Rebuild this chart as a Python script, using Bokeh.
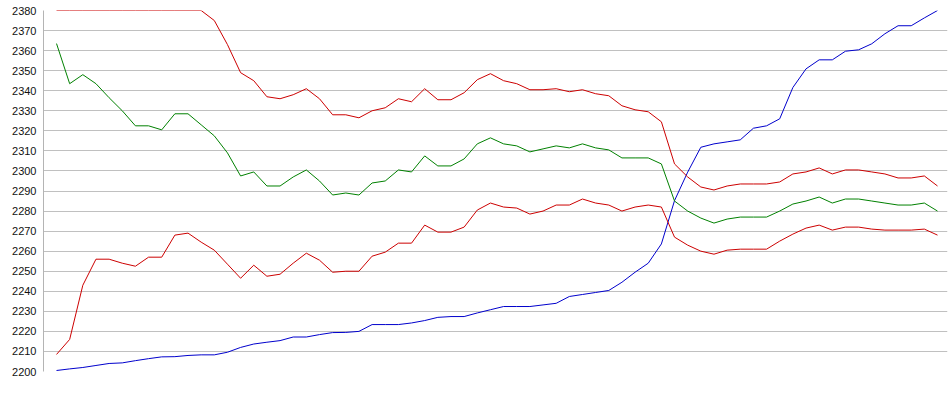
from bokeh.plotting import figure
from bokeh.models import Range1d, FixedTicker
from bokeh.embed import file_html
from bokeh.resources import INLINE

# index of each sample (68 samples)
idx = list(range(68))

red_upper = [2380] * 12 + [
    2375, 2363, 2349, 2345, 2337, 2336, 2338, 2341, 2336, 2328,
    2328, 2326.5, 2330, 2331.5, 2336, 2334.5, 2341, 2335.5, 2335.5, 2339,
    2345.5, 2348.5, 2345, 2343.5, 2340.5, 2340.5, 2341, 2339.5, 2340.5, 2338.5,
    2337.5, 2332.5, 2330.5, 2329.5, 2324.5, 2303.5, 2297, 2292, 2290.5, 2292.5,
    2293.5, 2293.5, 2293.5, 2294.5, 2298.5, 2299.5, 2301.5, 2298.5, 2300.5, 2300.5,
    2299.5, 2298.5, 2296.5, 2296.5, 2297.5, 2292.5]

green_mid = [
    2363.5, 2343.5, 2348, 2343.5, 2336.5, 2330, 2322.5, 2322.5, 2320.5, 2328.5,
    2328.5, 2323, 2317.5, 2309, 2297.5, 2299.5, 2292.5, 2292.5, 2297, 2300.5,
    2295, 2288, 2289, 2288, 2294, 2295, 2300.5, 2299.5, 2307.5, 2302.5,
    2302.5, 2306, 2313.5, 2316.5, 2313.5, 2312.5, 2309.5, 2311, 2312.5, 2311.5,
    2313.5, 2311.5, 2310.5, 2306.5, 2306.5, 2306.5, 2303.5, 2285, 2280, 2276.5,
    2274, 2276, 2277, 2277, 2277, 2280, 2283.5, 2285, 2287, 2284,
    2286, 2286, 2285, 2284, 2283, 2283, 2284, 2280]

red_lower = [
    2208.5, 2216, 2243, 2256, 2256, 2254, 2252.5, 2257, 2257, 2268,
    2269, 2264.5, 2260.5, 2253.5, 2246.5, 2253, 2247.5, 2248.5, 2254, 2259,
    2255.5, 2249.5, 2250, 2250, 2257.5, 2259.5, 2264, 2264, 2273, 2269.5,
    2269.5, 2272, 2280.5, 2284, 2282, 2281.5, 2278.5, 2280, 2283, 2283,
    2286, 2284, 2283, 2280, 2282, 2283, 2282, 2267, 2263, 2260,
    2258.5, 2260.5, 2261, 2261, 2261, 2265, 2268.5, 2271.5, 2273, 2270.5,
    2272, 2272, 2271, 2270.5, 2270.5, 2270.5, 2271, 2268]

blue_line = [
    2200.5, 2201.3, 2202, 2203, 2204, 2204.3, 2205.4, 2206.4, 2207.3, 2207.4,
    2208, 2208.3, 2208.3, 2209.6, 2212, 2213.7, 2214.6, 2215.4, 2217.2, 2217.2,
    2218.4, 2219.4, 2219.5, 2220, 2223.4, 2223.4, 2223.4, 2224.2, 2225.4, 2227,
    2227.4, 2227.4, 2229.2, 2230.8, 2232.4, 2232.4, 2232.4, 2233.2, 2234, 2237.4,
    2238.4, 2239.4, 2240.4, 2244.5, 2249.5, 2254, 2263.6, 2285.2, 2299.4, 2311.8,
    2313.5, 2314.5, 2315.5, 2321.3, 2322.5, 2326, 2341.6, 2350.9, 2355.4, 2355.4,
    2359.7, 2360.4, 2363.4, 2368.4, 2372.4, 2372.4, 2376.3, 2380]

y_ticks = list(range(2200, 2381, 10))

p = figure(width=948, height=390, output_backend="svg", toolbar_location=None,
           x_axis_type=None,
           x_range=Range1d(-0.99, 67.76), y_range=Range1d(2200, 2380),
           min_border_left=43, min_border_right=1, min_border_top=10,
           min_border_bottom=19)
p.outline_line_color = None
p.background_fill_color = "white"
p.border_fill_color = "white"

ax = p.yaxis[0]
ax.ticker = FixedTicker(ticks=y_ticks)
ax.major_label_text_font = "Liberation Sans"
ax.major_label_text_font_size = "11px"
ax.major_label_text_color = "#111111"
ax.axis_line_color = "#b4b4b4"
ax.major_tick_line_color = None
ax.minor_tick_line_color = None
ax.major_tick_out = 0
ax.major_tick_in = 0
ax.minor_tick_out = 0
ax.minor_tick_in = 0
ax.major_label_standoff = 7

p.ygrid.grid_line_color = "#c0c0c0"
p.ygrid.ticker = FixedTicker(ticks=y_ticks)

p.line(idx, blue_line, line_color="#0000cc", line_width=1)
p.line(idx, red_lower, line_color="#cc0000", line_width=1)
p.line(idx, green_mid, line_color="#008000", line_width=1)
p.line(idx, red_upper, line_color="#cc0000", line_width=1)

open("out.html", "w").write(file_html(p, INLINE))
